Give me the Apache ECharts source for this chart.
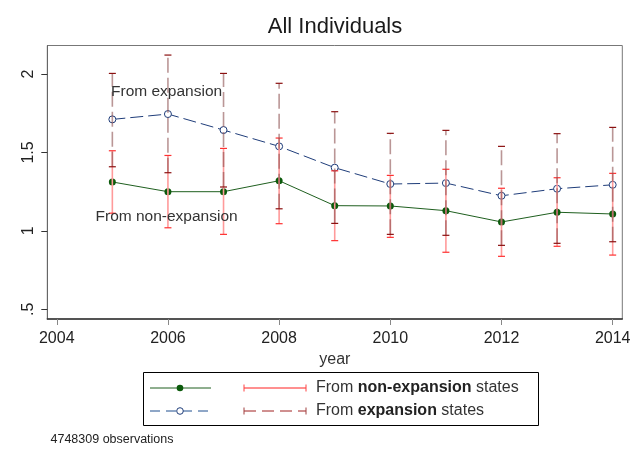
<!DOCTYPE html>
<html>
<head>
<meta charset="utf-8">
<script src="https://cdn.jsdelivr.net/npm/echarts@6/dist/echarts.min.js"></script>
<style>
  html, body { margin: 0; padding: 0; background: #fff; }
  #runChart { width: 640px; height: 466px; }
</style>
</head>
<body>
<div id="runChart"></div>
<script>
let years = [2005, 2006, 2007, 2008, 2009, 2010, 2011, 2012, 2013, 2014];
// from expansion states
let expMean = [1.711, 1.745, 1.643, 1.539, 1.403, 1.299, 1.305, 1.224, 1.269, 1.294];
let expLow = [1.409, 1.371, 1.280, 1.141, 1.048, 0.978, 0.972, 0.908, 0.921, 0.931];
let expHigh = [2.004, 2.121, 2.004, 1.941, 1.760, 1.622, 1.641, 1.539, 1.620, 1.660];
// from non-expansion states
let nonMean = [1.312, 1.250, 1.250, 1.320, 1.161, 1.159, 1.129, 1.057, 1.119, 1.108];
let nonLow = [1.113, 1.020, 0.978, 1.046, 0.938, 0.959, 0.864, 0.838, 0.902, 0.846];
let nonHigh = [1.511, 1.481, 1.526, 1.592, 1.383, 1.354, 1.393, 1.272, 1.339, 1.367];
let xTicks = [2004, 2006, 2008, 2010, 2012, 2014];
let yTicks = [0.5, 1, 1.5, 2];

const font = "Liberation Sans, Arial, sans-serif";

function pairs(xs, ys) {
  return xs.map((x, i) => [x, ys[i]]);
}
function triples(xs, lo, hi) {
  return xs.map((x, i) => [x, lo[i], hi[i]]);
}

function capRenderer(barColor, capColor, dash) {
  return function (params, api) {
    let x = api.value(0);
    let p1 = api.coord([x, api.value(1)]);
    let p2 = api.coord([x, api.value(2)]);
    let w = 3.5;
    return {
      type: "group",
      children: [
        {
          type: "line",
          shape: { x1: p1[0], y1: p1[1], x2: p2[0], y2: p2[1] },
          style: { stroke: barColor, lineWidth: 1.6, lineDash: dash }
        },
        {
          type: "line",
          shape: { x1: p1[0] - w, y1: p1[1], x2: p1[0] + w, y2: p1[1] },
          style: { stroke: capColor, lineWidth: 1.2 }
        },
        {
          type: "line",
          shape: { x1: p2[0] - w, y1: p2[1], x2: p2[0] + w, y2: p2[1] },
          style: { stroke: capColor, lineWidth: 1.2 }
        }
      ]
    };
  };
}

// legend rows drawn by hand (two samples per row, like the original)
let lx = 143.5, ly = 372.5;
let legend = [
  {
    type: "rect",
    shape: { x: lx, y: ly, width: 395, height: 53 },
    style: { fill: "#fff", stroke: "#000", lineWidth: 1 }
  },
  { type: "line", shape: { x1: 150, y1: 388, x2: 211, y2: 388 }, style: { stroke: "#1f5f1f", lineWidth: 1 } },
  { type: "circle", shape: { cx: 180, cy: 388, r: 3.3 }, style: { fill: "#0b5a0b" } },
  { type: "line", shape: { x1: 244, y1: 388, x2: 306, y2: 388 }, style: { stroke: "#ff2020", lineWidth: 1 } },
  { type: "line", shape: { x1: 244, y1: 384.5, x2: 244, y2: 391.5 }, style: { stroke: "#ff4040", lineWidth: 1 } },
  { type: "line", shape: { x1: 306, y1: 384.5, x2: 306, y2: 391.5 }, style: { stroke: "#ff4040", lineWidth: 1 } },
  {
    type: "text", x: 316, y: 388,
    style: {
      text: "From {b|non-expansion} states",
      font: "16px " + font, fill: "#333", verticalAlign: "middle",
      rich: { b: { fontWeight: "bold", fontSize: 16, fontFamily: font, fill: "#222" } }
    }
  },
  { type: "line", shape: { x1: 150, y1: 411, x2: 211, y2: 411 }, style: { stroke: "#1f4f8f", lineWidth: 1, lineDash: [10, 6] } },
  { type: "circle", shape: { cx: 180, cy: 411, r: 3.3 }, style: { fill: "#fff", stroke: "#1f3d7a", lineWidth: 1 } },
  { type: "line", shape: { x1: 244, y1: 411, x2: 306, y2: 411 }, style: { stroke: "#a02020", lineWidth: 1, lineDash: [12, 6] } },
  { type: "line", shape: { x1: 244, y1: 407.5, x2: 244, y2: 414.5 }, style: { stroke: "#a04040", lineWidth: 1 } },
  { type: "line", shape: { x1: 306, y1: 407.5, x2: 306, y2: 414.5 }, style: { stroke: "#a04040", lineWidth: 1 } },
  {
    type: "text", x: 316, y: 411,
    style: {
      text: "From {b|expansion} states",
      font: "16px " + font, fill: "#333", verticalAlign: "middle",
      rich: { b: { fontWeight: "bold", fontSize: 16, fontFamily: font, fill: "#222" } }
    }
  },
  {
    type: "text", x: 50.5, y: 440,
    style: { text: "4748309 observations", font: "12.5px " + font, fill: "#222", verticalAlign: "middle" }
  },
  // in-plot labels
  {
    type: "text", x: 111, y: 92, z: 10,
    style: { text: "From expansion", font: "15.5px " + font, fill: "#333", verticalAlign: "middle" }
  },
  {
    type: "text", x: 95.5, y: 216.5, z: 10,
    style: { text: "From non-expansion", font: "15.5px " + font, fill: "#333", verticalAlign: "middle" }
  }
];

let option = {
  animation: false,
  backgroundColor: "#fff",
  title: {
    text: "All Individuals",
    left: 335,
    top: 16,
    padding: 0,
    textAlign: "center",
    textStyle: { fontFamily: font, fontSize: 22, fontWeight: "normal", color: "#1a1a1a" }
  },
  grid: {
    left: 47.3,
    right: 17.7,
    top: 45.5,
    bottom: 147,
    show: true,
    borderColor: "#777",
    borderWidth: 1,
    backgroundColor: "#fff"
  },
  xAxis: {
    type: "value",
    min: 2003.83,
    max: 2014.173,
    name: "year",
    nameLocation: "middle",
    nameGap: 29,
    nameTextStyle: { fontFamily: font, fontSize: 16, color: "#333" },
    axisLine: { show: true, lineStyle: { color: "#333", width: 1.5 } },
    axisTick: { show: true, length: 6, lineStyle: { color: "#888" }, customValues: xTicks },
    axisLabel: {
      margin: 12,
      fontFamily: font,
      fontSize: 16,
      color: "#222",
      customValues: xTicks,
      formatter: v => String(v)
    },
    splitLine: { show: false }
  },
  yAxis: {
    type: "value",
    min: 0.4385,
    max: 2.182,
    axisLine: { show: true, lineStyle: { color: "#666" } },
    axisTick: { show: true, length: 6, lineStyle: { color: "#333" }, customValues: yTicks },
    axisLabel: {
      rotate: 90,
      margin: 11,
      fontFamily: font,
      fontSize: 16,
      color: "#222",
      customValues: yTicks,
      formatter: v => String(v).replace(/^0\./, ".")
    },
    splitLine: { show: false }
  },
  graphic: legend,
  series: [
    {
      name: "From non-expansion states",
      type: "line",
      data: pairs(years, nonMean),
      symbol: "circle",
      symbolSize: 7,
      z: 2,
      lineStyle: { color: "#1f5f1f", width: 1 },
      itemStyle: { color: "#0b5a0b" }
    },
    {
      name: "From expansion states",
      type: "line",
      data: pairs(years, expMean),
      symbol: "circle",
      symbolSize: 7,
      z: 2,
      lineStyle: { color: "#1f3d7a", width: 1, type: [13, 5] },
      itemStyle: { color: "#fff", borderColor: "#1f3d7a", borderWidth: 1 }
    },
    {
      name: "non-expansion CI",
      type: "custom",
      z: 3,
      data: triples(years, nonLow, nonHigh),
      encode: { x: 0, y: [1, 2] },
      renderItem: capRenderer("#ff9a9a", "#ff3030", null)
    },
    {
      name: "expansion CI",
      type: "custom",
      z: 3,
      data: triples(years, expLow, expHigh),
      encode: { x: 0, y: [1, 2] },
      renderItem: capRenderer("rgba(140,80,80,0.6)", "#8b1010", [15, 5])
    }
  ]
};

var myChart = echarts.init(document.getElementById("runChart"));
myChart.setOption(option);
</script>
</body>
</html>
